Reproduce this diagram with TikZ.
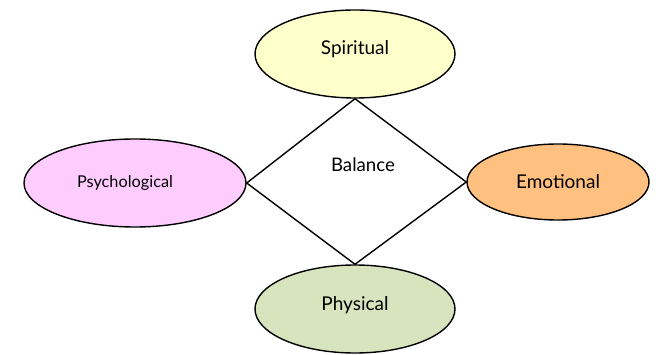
\documentclass[tikz,border=0pt]{standalone}
\usepackage{fontspec}
\setmainfont{Lato}
\usetikzlibrary{shapes.geometric}
\definecolor{cSpir}{HTML}{FFFFCC}
\definecolor{cPsy}{HTML}{FFCCFF}
\definecolor{cEmo}{HTML}{FFC080}
\definecolor{cPhy}{HTML}{D7E4BD}
\tikzset{
  areabox/.style={ellipse, draw=black, line width=1.4pt, inner sep=0pt, font=\fontsize{19}{22}\selectfont},
  linkline/.style={draw=black, line width=1.4pt}
}
\begin{document}
\begin{tikzpicture}[x=1pt,y=-1pt]
\useasboundingbox (0,0) rectangle (658,355);
\node[areabox, fill=cSpir, minimum width=200pt, minimum height=88pt, text depth=13pt] (spir) at (355,54) {Spiritual};
\node[areabox, fill=cPhy, minimum width=200pt, minimum height=88pt, text depth=10pt] (phy) at (355,309) {Physical};
\node[areabox, fill=cPsy, minimum width=222pt, minimum height=88pt, font=\fontsize{16.3}{19}\selectfont, text width=116pt, align=left] (psy) at (135,183) {Psychological};
\node[areabox, fill=cEmo, minimum width=182pt, minimum height=76pt] (emo) at (558,182) {Emotional};
\draw[linkline] (spir.south) -- (emo.west) -- (phy.north) -- (psy.east) -- (spir.south);
\node[font=\fontsize{18.7}{22}\selectfont] (bal) at (363,165) {Balance};
\end{tikzpicture}
\end{document}
